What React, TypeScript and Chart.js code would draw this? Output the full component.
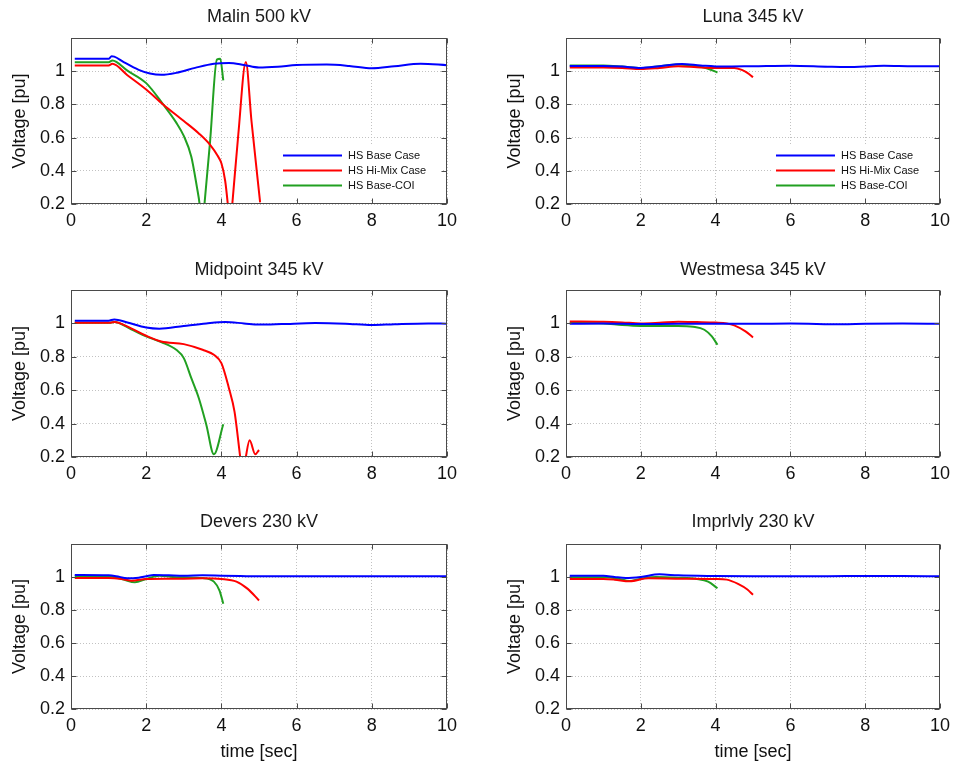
import React, { useEffect, useRef } from 'react';
import { Chart, registerables } from 'chart.js';

Chart.register(...registerables);

type Pt = [number, number];

const FONT = '"Liberation Sans", Arial, Helvetica, sans-serif';

const xTicks = [0, 2, 4, 6, 8, 10];
const yTicks = [0.2, 0.4, 0.6, 0.8, 1.0, 1.2];
const seriesNames = ['HS Base Case', 'HS Hi-Mix Case', 'HS Base-COI'];
const seriesColors = ['#0000ff', '#ff0000', '#21a021'];

// Malin 500 kV
const malinBase: Pt[] = [[0.1, 1.075], [1.0, 1.075], [1.08, 1.09], [1.15, 1.088], [1.4, 1.055], [1.8, 1.008], [2.1, 0.986], [2.4, 0.978], [2.8, 0.99], [3.3, 1.02], [3.8, 1.045], [4.2, 1.05], [4.6, 1.038], [5.0, 1.022], [5.5, 1.027], [6.0, 1.037], [6.8, 1.04], [7.4, 1.032], [8.0, 1.018], [8.6, 1.03], [9.3, 1.045], [10, 1.036]];
const malinHiMix: Pt[] = [[0.1, 1.034], [1.0, 1.034], [1.1, 1.045], [1.5, 0.976], [2.0, 0.89], [2.45, 0.8], [3.0, 0.7], [3.4, 0.625], [3.7, 0.556], [3.9, 0.49], [4.0, 0.445], [4.1, 0.34], [4.17, 0.2], [4.23, 0.05], [4.29, 0.2], [4.45, 0.62], [4.65, 1.055], [4.8, 0.7], [5.03, 0.21]];
const malinCOI: Pt[] = [[0.1, 1.054], [1.0, 1.054], [1.1, 1.064], [1.5, 1.003], [2.0, 0.928], [2.45, 0.8], [2.8, 0.69], [3.0, 0.61], [3.2, 0.485], [3.35, 0.3], [3.42, 0.2], [3.48, 0.05], [3.55, 0.2], [3.7, 0.58], [3.88, 1.07], [3.97, 1.075], [4.05, 0.945]];

// Luna 345 kV
const lunaBase: Pt[] = [[0.1, 1.032], [1.0, 1.032], [1.5, 1.028], [2.0, 1.02], [2.5, 1.03], [3.1, 1.044], [3.6, 1.035], [4.2, 1.028], [5.0, 1.03], [6.0, 1.033], [7.0, 1.027], [7.5, 1.025], [8.5, 1.033], [9.3, 1.03], [10, 1.03]];
const lunaHiMix: Pt[] = [[0.1, 1.022], [1.0, 1.022], [1.5, 1.02], [2.0, 1.013], [2.5, 1.02], [3.0, 1.03], [3.5, 1.024], [4.0, 1.02], [4.5, 1.02], [4.7, 1.008], [4.85, 0.99], [5.0, 0.964]];
const lunaCOI: Pt[] = [[0.1, 1.034], [1.0, 1.034], [1.5, 1.028], [2.0, 1.02], [2.5, 1.03], [3.0, 1.04], [3.5, 1.03], [3.8, 1.015], [4.05, 0.992]];

// Midpoint 345 kV
const midBase: Pt[] = [[0.1, 1.016], [1.0, 1.016], [1.15, 1.024], [1.5, 1.005], [2.0, 0.975], [2.35, 0.968], [3.0, 0.985], [3.6, 1.0], [4.1, 1.008], [4.6, 1.0], [5.0, 0.993], [5.6, 0.996], [6.5, 1.002], [7.3, 0.998], [8.0, 0.99], [8.6, 0.995], [9.5, 1.0], [10, 0.998]];
const midHiMix: Pt[] = [[0.1, 1.004], [1.0, 1.004], [1.15, 1.008], [1.6, 0.97], [2.0, 0.926], [2.4, 0.892], [3.0, 0.876], [3.5, 0.842], [3.8, 0.812], [4.0, 0.762], [4.2, 0.612], [4.35, 0.47], [4.5, 0.2], [4.57, 0.08], [4.65, 0.2], [4.75, 0.3], [4.9, 0.216], [5.0, 0.242]];
const midCOI: Pt[] = [[0.1, 1.004], [1.0, 1.004], [1.15, 1.008], [1.6, 0.965], [2.0, 0.922], [2.4, 0.888], [2.8, 0.842], [3.0, 0.792], [3.2, 0.672], [3.4, 0.552], [3.6, 0.392], [3.8, 0.216], [4.05, 0.396]];

// Westmesa 345 kV
const westBase: Pt[] = [[0.1, 0.998], [1.0, 0.999], [2.0, 0.996], [3.0, 0.998], [4.0, 0.998], [5.0, 0.998], [6.0, 0.999], [7.4, 0.995], [8.0, 0.998], [9.0, 0.999], [10, 0.998]];
const westHiMix: Pt[] = [[0.1, 1.012], [1.0, 1.01], [1.5, 1.006], [2.0, 1.0], [2.5, 1.004], [3.0, 1.01], [3.5, 1.008], [4.0, 1.005], [4.3, 1.0], [4.5, 0.988], [4.8, 0.952], [5.0, 0.916]];
const westCOI: Pt[] = [[0.1, 1.002], [1.0, 1.0], [1.5, 0.99], [2.0, 0.985], [3.0, 0.985], [3.4, 0.98], [3.7, 0.962], [3.9, 0.922], [4.05, 0.872]];

// Devers 230 kV
const deversBase: Pt[] = [[0.1, 1.012], [1.0, 1.01], [1.2, 1.005], [1.5, 0.992], [1.8, 0.996], [2.0, 1.004], [2.2, 1.012], [2.6, 1.01], [3.0, 1.008], [3.5, 1.01], [4.0, 1.008], [4.5, 1.006], [5.0, 1.004], [6.0, 1.004], [7.0, 1.004], [8.0, 1.005], [9.0, 1.004], [10, 1.004]];
const deversHiMix: Pt[] = [[0.1, 0.994], [1.0, 0.994], [1.3, 0.99], [1.6, 0.978], [2.0, 0.988], [2.5, 0.99], [3.0, 0.99], [3.5, 0.992], [4.0, 0.988], [4.4, 0.972], [4.7, 0.928], [5.0, 0.858]];
const deversCOI: Pt[] = [[0.1, 1.004], [1.0, 1.005], [1.4, 0.984], [1.7, 0.968], [2.0, 0.988], [2.35, 1.008], [2.7, 1.0], [3.0, 0.998], [3.5, 0.994], [3.8, 0.972], [3.95, 0.918], [4.05, 0.838]];

// Imprlvly 230 kV
const impBase: Pt[] = [[0.1, 1.008], [1.0, 1.008], [1.3, 1.0], [1.6, 0.994], [2.0, 1.0], [2.5, 1.016], [3.0, 1.01], [4.0, 1.006], [5.0, 1.004], [6.0, 1.005], [7.0, 1.005], [8.0, 1.006], [9.0, 1.006], [10, 1.004]];
const impHiMix: Pt[] = [[0.1, 0.988], [1.0, 0.988], [1.3, 0.984], [1.7, 0.974], [2.2, 0.992], [3.0, 0.99], [4.0, 0.988], [4.3, 0.984], [4.6, 0.958], [4.85, 0.924], [5.0, 0.892]];
const impCOI: Pt[] = [[0.1, 0.998], [1.0, 0.998], [1.4, 0.99], [1.7, 0.976], [2.0, 0.99], [2.4, 1.0], [3.0, 0.996], [3.5, 0.988], [3.8, 0.972], [4.05, 0.932]];

const panelTitles = ['Malin 500 kV', 'Luna 345 kV', 'Midpoint 345 kV', 'Westmesa 345 kV', 'Devers 230 kV', 'Imprlvly 230 kV'];
const panelSeries: Pt[][][] = [
  [malinBase, malinHiMix, malinCOI],
  [lunaBase, lunaHiMix, lunaCOI],
  [midBase, midHiMix, midCOI],
  [westBase, westHiMix, westCOI],
  [deversBase, deversHiMix, deversCOI],
  [impBase, impHiMix, impCOI],
];

// layout geometry (pixels)
const cols = [
  { left: 0, width: 470, plotLeft: 71, plotRight: 447, labelX: 20.5 },
  { left: 478, width: 478, plotLeft: 566, plotRight: 941, labelX: 515 },
];
const rows = [
  { top: 0, height: 250, plotTop: 38, plotBottom: 204, titleY: 17 },
  { top: 250, height: 250, plotTop: 290, plotBottom: 457, titleY: 270 },
  { top: 500, height: 267, plotTop: 544, plotBottom: 709, titleY: 522 },
];

const framePlugin = {
  id: 'frame',
  afterDraw(chart: any, _args: any, opts: any) {
    const { ctx, chartArea: a, scales } = chart;
    ctx.save();
    // legend (white box, no border)
    if (opts.legend) {
      ctx.fillStyle = '#ffffff';
      ctx.fillRect(a.right - 167, a.bottom - 58, 163, 53);
      const rowsY = [-49, -34, -19];
      ctx.font = '11px ' + FONT;
      ctx.textAlign = 'left';
      ctx.textBaseline = 'middle';
      seriesNames.forEach((name, i) => {
        const y = Math.round(a.bottom + rowsY[i]) + 0.5;
        ctx.strokeStyle = seriesColors[i];
        ctx.lineWidth = 2;
        ctx.beginPath();
        ctx.moveTo(a.right - 164, y);
        ctx.lineTo(a.right - 105, y);
        ctx.stroke();
        ctx.fillStyle = '#111111';
        ctx.fillText(name, a.right - 99, y);
      });
    }
    // box
    ctx.strokeStyle = '#4a4a4a';
    ctx.lineWidth = 1;
    const l = Math.round(a.left) + 0.5;
    const r = Math.round(a.right) - 0.5;
    const t = Math.round(a.top) + 0.5;
    const b = Math.round(a.bottom) - 0.5;
    ctx.strokeRect(l, t, r - l, b - t);
    // inward tick marks on all sides
    const L = 5;
    ctx.beginPath();
    xTicks.forEach((v) => {
      const px = Math.round(scales.x.getPixelForValue(v)) + 0.5;
      ctx.moveTo(px, b); ctx.lineTo(px, b - L);
      ctx.moveTo(px, t); ctx.lineTo(px, t + L);
    });
    yTicks.forEach((v) => {
      const py = Math.round(scales.y.getPixelForValue(v)) + 0.5;
      ctx.moveTo(l, py); ctx.lineTo(l + L, py);
      ctx.moveTo(r, py); ctx.lineTo(r - L, py);
    });
    ctx.stroke();
    // panel title
    ctx.fillStyle = '#1a1a1a';
    ctx.font = '18px ' + FONT;
    ctx.textAlign = 'center';
    ctx.textBaseline = 'middle';
    ctx.fillText(opts.text, (a.left + a.right) / 2, opts.titleY);
    ctx.restore();
  },
};

function Panel({ index }: { index: number }) {
  const ref = useRef<HTMLCanvasElement | null>(null);
  const col = cols[index % 2];
  const row = rows[Math.floor(index / 2)];
  const isBottom = Math.floor(index / 2) === 2;
  const hasLegend = Math.floor(index / 2) === 0;

  useEffect(() => {
    if (!ref.current) return;
    const series = panelSeries[index];
    const chart = new Chart(ref.current, {
      type: 'line',
      data: {
        datasets: series.map((pts, i) => ({
          label: seriesNames[i],
          data: pts.map(([x, y]) => ({ x, y })),
          borderColor: seriesColors[i],
          backgroundColor: seriesColors[i],
          borderWidth: 2,
          pointRadius: 0,
          fill: false,
          cubicInterpolationMode: 'monotone' as const,
        })),
      },
      plugins: [framePlugin],
      options: {
        animation: false,
        responsive: true,
        maintainAspectRatio: false,
        events: [],
        layout: {
          padding: {
            left: 0,
            right: col.left + col.width - col.plotRight,
            top: row.plotTop - row.top,
            bottom: 0,
          },
        },
        plugins: {
          legend: { display: false },
          title: { display: false },
          tooltip: { enabled: false },
          frame: { text: panelTitles[index], titleY: row.titleY - row.top, legend: hasLegend },
        } as any,
        scales: {
          x: {
            type: 'linear',
            min: 0,
            max: 10,
            ticks: { stepSize: 2, padding: 6, color: '#111111', font: { family: FONT, size: 18 } },
            grid: { color: '#c2c2c2', lineWidth: 1, drawTicks: false },
            border: { display: false, dash: [1, 2] },
            title: {
              display: isBottom,
              text: 'time [sec]',
              color: '#111111',
              font: { family: FONT, size: 18 },
              padding: { top: 0, bottom: 4 },
            },
            afterFit: (s: any) => {
              s.height = row.top + row.height - row.plotBottom;
            },
          },
          y: {
            type: 'linear',
            min: 0.2,
            max: 1.2,
            ticks: {
              stepSize: 0.2,
              padding: 6,
              color: '#111111',
              font: { family: FONT, size: 18 },
              callback: (v: any) => {
                const n = Number(v);
                if (n > 1.1) return '';
                if (Math.abs(n - 1) < 1e-6) return '1';
                return n.toFixed(1);
              },
            },
            grid: { color: '#c2c2c2', lineWidth: 1, drawTicks: false },
            border: { display: false, dash: [1, 2] },
            title: {
              display: true,
              text: 'Voltage [pu]',
              color: '#111111',
              font: { family: FONT, size: 18 },
              padding: { top: col.labelX - col.left - 10.8, bottom: 0 },
            },
            afterFit: (s: any) => {
              s.width = col.plotLeft - col.left;
            },
          },
        },
      } as any,
    });
    return () => chart.destroy();
  }, [index]);

  return (
    <div
      style={{
        position: 'absolute',
        left: col.left,
        top: row.top,
        width: col.width,
        height: row.height,
      }}
    >
      <canvas ref={ref} />
    </div>
  );
}

export default function App() {
  return (
    <div
      style={{
        position: 'absolute',
        left: 0,
        top: 0,
        width: 956,
        height: 767,
        background: '#ffffff',
        overflow: 'hidden',
      }}
    >
      {panelTitles.map((_, i) => (
        <Panel key={i} index={i} />
      ))}
    </div>
  );
}
